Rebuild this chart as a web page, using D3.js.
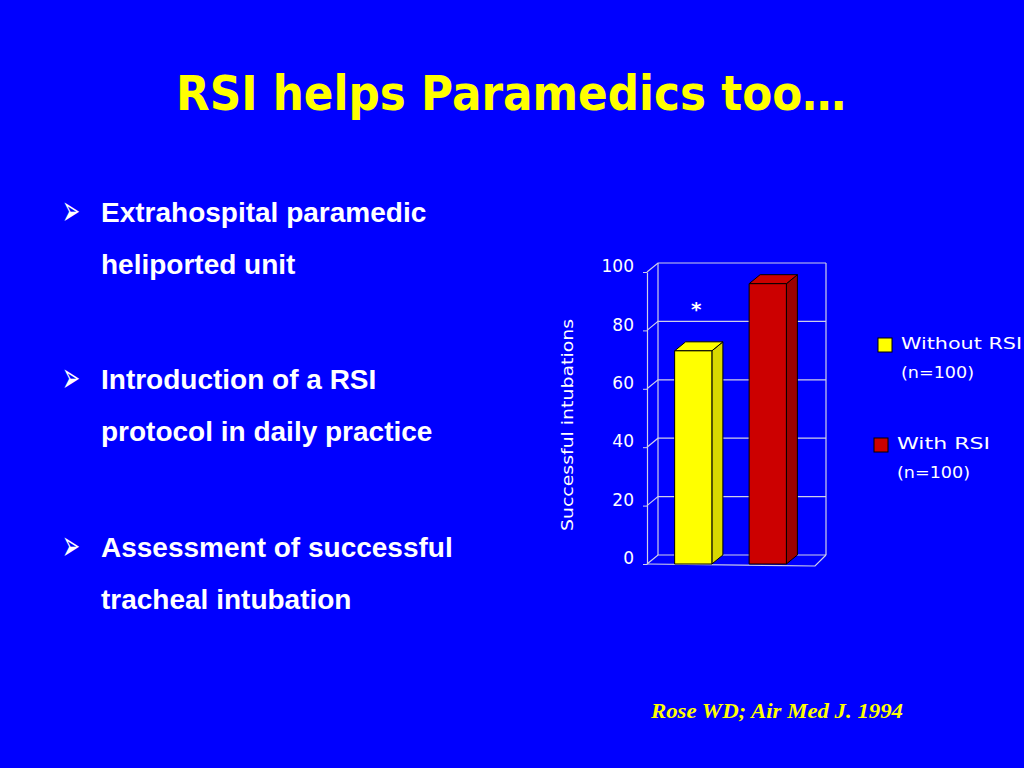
<!DOCTYPE html>
<html>
<head>
<meta charset="utf-8">
<script src="https://cdn.jsdelivr.net/npm/d3@7"></script>
<style>
  body { margin: 0; background: #0000ff; }
  svg { display: block; }
</style>
</head>
<body>
<svg id="slide" width="1024" height="768"></svg>
<script>
// data
var categories = ["Without RSI", "With RSI"];
var successValues = [73, 96];
var sampleSizes = ["(n=100)", "(n=100)"];
var yTicks = [0, 20, 40, 60, 80, 100];
var barColors = ["#ffff00", "#cc0000"];
var sideColors = ["#d8d800", "#9c0000"];
var bullets = [
  ["Extrahospital paramedic", "heliported unit"],
  ["Introduction of a RSI", "protocol in daily practice"],
  ["Assessment of successful", "tracheal intubation"]
];

var comic = "'Comic Sans MS', 'DejaVu Sans', sans-serif";
var svg = d3.select("#slide");

svg.append("rect").attr("width", 1024).attr("height", 768).attr("fill", "#0000ff");

// title
svg.append("text")
  .attr("x", 176).attr("y", 110)
  .attr("textLength", 670).attr("lengthAdjust", "spacingAndGlyphs")
  .style("font-family", comic).style("font-size", "48px").style("font-weight", "bold")
  .attr("fill", "#ffff00")
  .text("RSI helps Paramedics too\u2026");

// bullet list
var blockTop = [222, 389, 557];
bullets.forEach(function(lines, i) {
  svg.append("text")
    .attr("x", 62).attr("y", blockTop[i] + 3)
    .attr("textLength", 18).attr("lengthAdjust", "spacingAndGlyphs")
    .style("font-family", "'DejaVu Sans', sans-serif").style("font-size", "42px")
    .attr("fill", "#ffffff")
    .text("\u27A2");
  lines.forEach(function(l, j) {
    svg.append("text")
      .attr("x", 101).attr("y", blockTop[i] + j * 52)
      .style("font-family", "'Liberation Sans', Arial, sans-serif")
      .style("font-size", "28px").style("font-weight", "bold")
      .attr("fill", "#ffffff")
      .text(l);
  });
});

// citation
svg.append("text")
  .attr("x", 651).attr("y", 718)
  .attr("textLength", 252).attr("lengthAdjust", "spacingAndGlyphs")
  .style("font-family", "'Liberation Serif', 'Times New Roman', serif")
  .style("font-size", "22px").style("font-weight", "bold").style("font-style", "italic")
  .attr("fill", "#ffff00")
  .text("Rose WD; Air Med J. 1994");

// chart
var dx = 11, dy = -9;
var left = 647, right = 815;

var y = d3.scaleLinear().domain([0, 100]).range([564, 272]);
var x = d3.scaleBand().domain(categories).range([656, 805])
  .paddingInner(0.5).paddingOuter(0.25);

var grid = svg.append("g").attr("stroke", "#d0d0e8").attr("stroke-width", 1.2).attr("fill", "none");

// back wall gridlines with side-wall diagonals
yTicks.forEach(function(t) {
  grid.append("path")
    .attr("d", "M" + left + "," + y(t) + "L" + (left + dx) + "," + (y(t) + dy) +
               "L" + (right + dx) + "," + (y(t) + dy));
});
// wall edges
grid.append("path")
  .attr("d", "M" + (left + dx) + "," + (y(0) + dy) + "V" + (y(100) + dy));
grid.append("path")
  .attr("d", "M" + (right + dx) + "," + (y(0) + dy) + "V" + (y(100) + dy));
// floor front edge
grid.append("path")
  .attr("d", "M" + left + "," + y(0) + "L" + right + "," + (y(0) + 2) +
             "L" + (right + dx) + "," + (y(0) + dy));

// axis
var axis = svg.append("g")
  .attr("transform", "translate(" + left + ",0)")
  .call(d3.axisLeft(y).tickValues(yTicks).tickSize(4).tickSizeOuter(0).tickPadding(9));
axis.select(".domain").attr("stroke", "#d0d0e8").attr("stroke-width", 1.2);
axis.selectAll(".tick line").attr("stroke", "#d0d0e8");
axis.selectAll(".tick text")
  .attr("fill", "#ffffff")
  .attr("dy", "-0.02em")
  .style("font-family", comic).style("font-size", "17px");

svg.append("text")
  .attr("transform", "translate(573,425) rotate(-90)")
  .attr("text-anchor", "middle")
  .attr("textLength", 212).attr("lengthAdjust", "spacingAndGlyphs")
  .style("font-family", comic).style("font-size", "16px")
  .attr("fill", "#ffffff")
  .text("Successful intubations");

// 3d bars
var bars = svg.selectAll(".bar").data(successValues).enter()
  .append("g").attr("class", "bar")
  .attr("stroke", "#000000").attr("stroke-width", 1).attr("stroke-linejoin", "round");

bars.append("path")
  .attr("fill", function(d, i) { return sideColors[i]; })
  .attr("d", function(d, i) {
    var x1 = x(categories[i]) + x.bandwidth();
    return "M" + x1 + "," + y(d) + "L" + (x1 + dx) + "," + (y(d) + dy) +
           "L" + (x1 + dx) + "," + (y(0) + dy) + "L" + x1 + "," + y(0) + "Z";
  });
bars.append("path")
  .attr("fill", function(d, i) { return barColors[i]; })
  .attr("d", function(d, i) {
    var x0 = x(categories[i]), x1 = x0 + x.bandwidth();
    return "M" + x0 + "," + y(d) + "L" + (x0 + dx) + "," + (y(d) + dy) +
           "L" + (x1 + dx) + "," + (y(d) + dy) + "L" + x1 + "," + y(d) + "Z";
  });
bars.append("rect")
  .attr("fill", function(d, i) { return barColors[i]; })
  .attr("x", function(d, i) { return x(categories[i]); })
  .attr("width", x.bandwidth())
  .attr("y", function(d) { return y(d); })
  .attr("height", function(d) { return y(0) - y(d); });

// significance mark
svg.append("text")
  .attr("x", x(categories[0]) + x.bandwidth() / 2 + 3).attr("y", 316)
  .attr("text-anchor", "middle")
  .style("font-family", comic).style("font-size", "20px").style("font-weight", "bold")
  .attr("fill", "#ffffff")
  .text("*");

// legend
var legendY = [338, 438];
var legendX = [878, 874];
var legend = svg.selectAll(".legend").data(categories).enter()
  .append("g").attr("class", "legend");
legend.append("rect")
  .attr("x", function(d, i) { return legendX[i]; })
  .attr("y", function(d, i) { return legendY[i]; })
  .attr("width", 14).attr("height", 14)
  .attr("fill", function(d, i) { return barColors[i]; })
  .attr("stroke", "#000000");
legend.append("text")
  .attr("x", function(d, i) { return legendX[i] + 23; })
  .attr("y", function(d, i) { return legendY[i] + 11; })
  .attr("textLength", function(d, i) { return i === 0 ? 121 : 93; })
  .attr("lengthAdjust", "spacingAndGlyphs")
  .style("font-family", comic).style("font-size", "16px")
  .attr("fill", "#ffffff")
  .text(function(d) { return d; });
legend.append("text")
  .attr("x", function(d, i) { return legendX[i] + 23; })
  .attr("y", function(d, i) { return legendY[i] + 40; })
  .attr("textLength", 73).attr("lengthAdjust", "spacingAndGlyphs")
  .style("font-family", comic).style("font-size", "16px")
  .attr("fill", "#ffffff")
  .text(function(d, i) { return sampleSizes[i]; });
</script>
</body>
</html>
